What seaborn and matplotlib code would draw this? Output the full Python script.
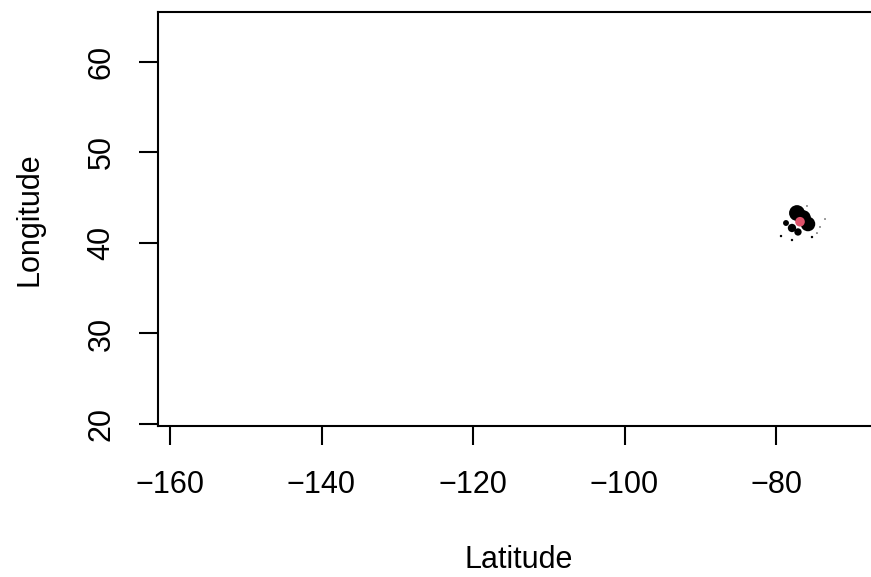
import numpy as np
import pandas as pd
import matplotlib
matplotlib.use("Agg")
import matplotlib.pyplot as plt
import seaborn as sns

# Observaciones (longitud, latitud, peso)
lon = [-77.23, -76.44, -75.78, -78.68, -77.89, -77.10, -79.34, -77.89,
       -75.25, -74.19, -74.59, -75.91, -73.53]
lat = [43.31, 42.76, 42.10, 42.21, 41.66, 41.22, 40.77, 40.33,
       40.66, 41.77, 41.10, 44.09, 42.65]
weight = [130, 130, 110, 18, 36, 28, 3, 3, 3, 1, 1, 1, 1]

# Punto destacado
center_lon = [-76.83]
center_lat = [42.35]

x_ticks = [-160, -140, -120, -100, -80]
y_ticks = [20, 30, 40, 50, 60]

sns.set_style("ticks")
plt.rcParams["font.family"] = ["Liberation Sans", "DejaVu Sans"]

df = pd.DataFrame({"lon": lon, "lat": lat, "weight": weight})

W, H = 871, 577
fig = plt.figure(figsize=(W / 100, H / 100), dpi=100)
left, right, top, bottom = 158.3, 880, 12.3, 426
ax = fig.add_axes([left / W, 1 - bottom / H, (right - left) / W, (bottom - top) / H])

sns.scatterplot(data=df, x="lon", y="lat", size="weight",
                sizes=(1, 130), size_norm=(1, 130),
                color="black", edgecolor="none", linewidth=0,
                legend=False, ax=ax)
sns.scatterplot(x=center_lon, y=center_lat, s=48, color="#DF536B",
                edgecolor="none", linewidth=0, legend=False, ax=ax)

# escala: -160 -> 170 px, -80 -> 776 px ; 60 -> 62 px, 20 -> 424 px
px_x = (776 - 170) / 80
px_y = (424 - 62) / 40
ax.set_xlim(-160 - (170 - left) / px_x, -80 + (right - 776) / px_x)
ax.set_ylim(20 - (bottom - 424) / px_y, 60 + (62 - top) / px_y)

ax.set_xticks(x_ticks)
ax.set_yticks(y_ticks)
ax.set_xticklabels([str(t).replace("-", "\u2212") for t in x_ticks])
ax.set_yticklabels([str(t) for t in y_ticks], rotation=90, va="center")

for s in ax.spines.values():
    s.set_linewidth(1.5)
    s.set_color("black")
ax.tick_params(axis="both", direction="out", length=14, width=1.5,
               labelsize=22, colors="black")
ax.tick_params(axis="x", pad=18)
ax.tick_params(axis="y", pad=16)

ax.set_xlabel("Latitude", fontsize=22, labelpad=32, color="black")
ax.set_ylabel("Longitude", fontsize=22, labelpad=30, color="black")

fig.savefig("out.png", dpi=100)
